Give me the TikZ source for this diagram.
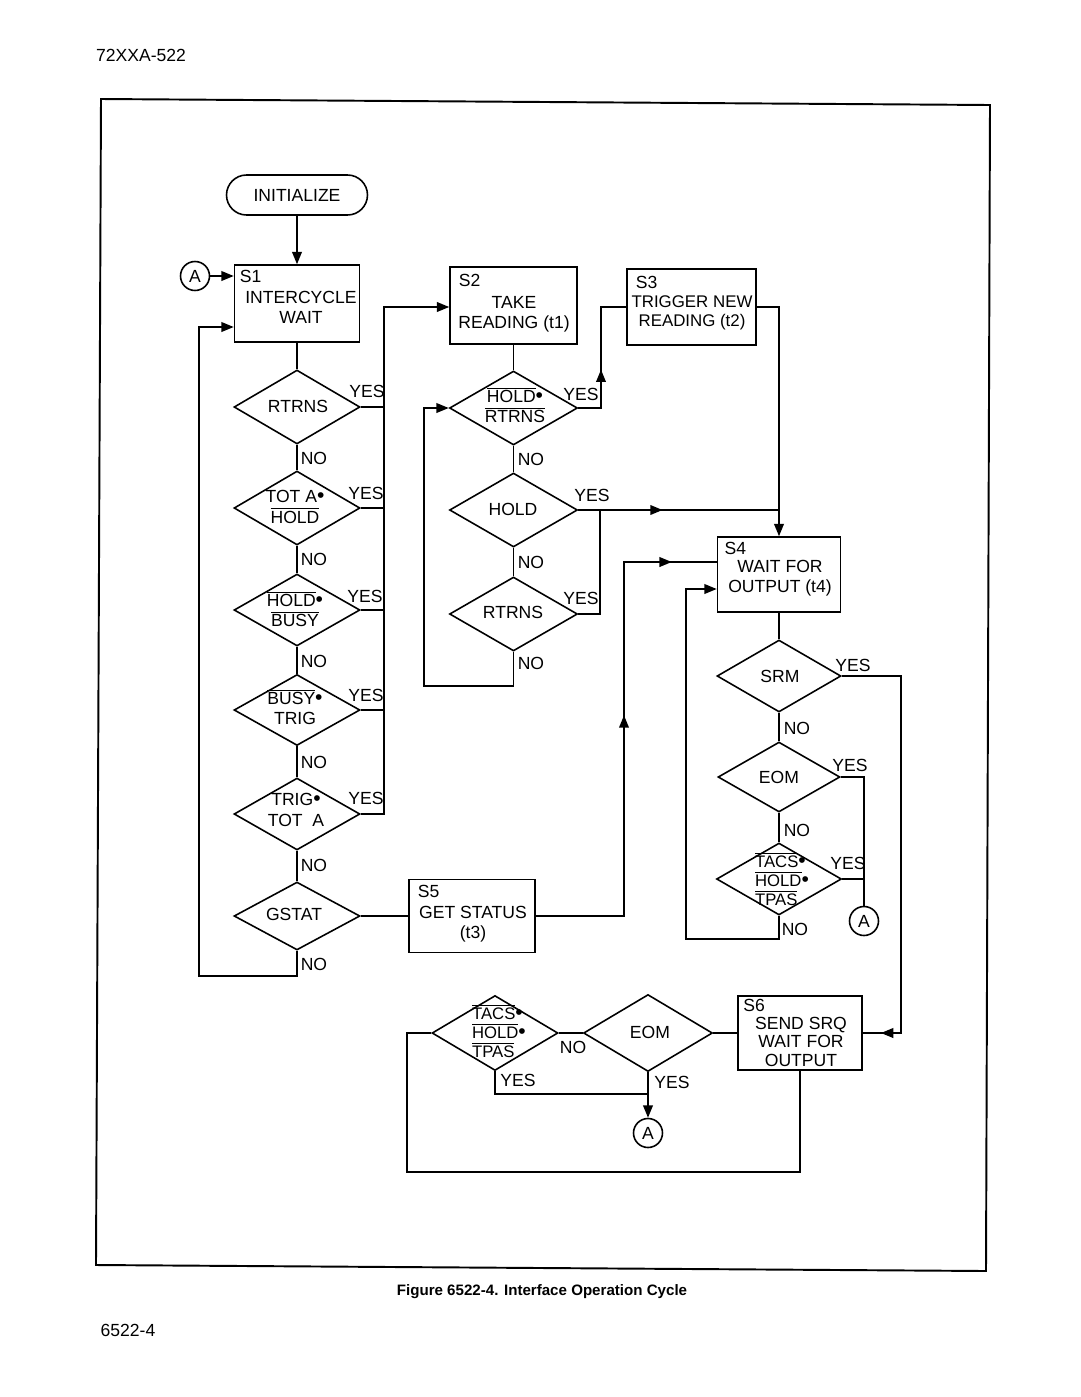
\documentclass[tikz,border=0pt]{standalone}
\usepackage{fontspec}
\setmainfont{Liberation Sans}
\usetikzlibrary{arrows.meta,shapes.geometric,decorations.markings}

\tikzset{
  arr/.style={-{Triangle[length=7pt,width=5.5pt]}},
  arrat/.style={postaction={decorate,decoration={markings,
      mark=at position #1 with {\arrow{Triangle[length=7pt,width=5.5pt]}}}}},
}
\newcommand{\notsig}[1]{$\overline{\hbox{#1}}$}
\newcommand{\andd}{{\fontsize{12}{12}\selectfont\textbullet}}

\begin{document}
\begin{tikzpicture}[x=0.02cm, y=-0.02cm, line width=0.9pt,
    font=\fontsize{10}{11.5}\selectfont]
    \useasboundingbox (0,0) rectangle (1080,1397);

    % page frame and page texts
    \draw[line width=1.1pt] (101,99) -- (990,105) -- (986,1271) -- (96,1265) -- cycle;
    \node (hdr) at (141,55) {72XXA-522};
    \node[font=\fontsize{8.6}{9}\selectfont\bfseries] (cap) at (542,1292) {Figure 6522-4. Interface Operation Cycle};
    \node (pg) at (128,1330) {6522-4};

    \begin{scope}[every node/.style={rectangle, draw, inner sep=0pt}]
      \node[rounded corners=0.4cm, minimum width=2.82cm, minimum height=0.8cm] (init) at (297,195) {INITIALIZE};
      \node[minimum width=2.5cm, minimum height=1.54cm] (s1) at (297,303.5) {};
      \node[minimum width=2.54cm, minimum height=1.54cm] (s2) at (513.5,305.5) {};
      \node[minimum width=2.58cm, minimum height=1.52cm] (s3) at (691.5,307) {};
      \node[minimum width=2.46cm, minimum height=1.5cm] (s4) at (779,574.5) {};
      \node[minimum width=2.52cm, minimum height=1.46cm] (s5) at (472,916) {};
      \node[minimum width=2.48cm, minimum height=1.48cm] (s6) at (800,1033) {};
    \end{scope}

    \begin{scope}[every node/.style={circle, draw, minimum size=0.58cm, inner sep=0pt}]
      \node (a1) at (195,276) {A};
      \node (a2) at (864,921) {A};
      \node (a3) at (648,1133) {A};
    \end{scope}

    \begin{scope}[every node/.style={diamond, draw, inner sep=0pt, minimum width=2.52cm, minimum height=1.48cm}]
      \node (d1) at (297,407) {};
      \node (d2) at (297,508) {};
      \node[minimum height=1.44cm] (d3) at (297,610) {};
      \node[minimum height=1.42cm] (d4) at (297,710) {};
      \node[minimum height=1.44cm] (d5) at (297,814) {};
      \node[minimum height=1.36cm] (d6) at (297,916) {};
      \node[minimum width=2.56cm] (d7) at (513.5,408) {};
      \node[minimum width=2.56cm] (d8) at (513.5,510) {};
      \node[minimum width=2.56cm] (d9) at (513.5,614) {};
      \node[minimum width=2.48cm, minimum height=1.44cm] (d10) at (779,676) {};
      \node[minimum width=2.44cm, minimum height=1.4cm] (d11) at (779,777) {};
      \node[minimum width=2.5cm, minimum height=1.44cm] (d12) at (779,879) {};
      \node[minimum width=2.58cm, minimum height=1.54cm] (d13) at (648,1033) {};
      \node[minimum height=1.5cm] (d14) at (495,1033) {};
    \end{scope}

    % texts in boxes and diamonds
    \begin{scope}[every node/.style={inner sep=0pt, align=center}]
      \node[anchor=north west] (s1tag) at ([xshift=3pt,yshift=-3pt]s1.north west) {S1};
      \node[anchor=north west] (s2tag) at ([xshift=5pt,yshift=-4pt]s2.north west) {S2};
      \node[anchor=north west] (s3tag) at ([xshift=5pt,yshift=-4pt]s3.north west) {S3};
      \node[anchor=north west] (s4tag) at ([xshift=4pt,yshift=-3pt]s4.north west) {S4};
      \node[anchor=north west] (s5tag) at ([xshift=5pt,yshift=-3pt]s5.north west) {S5};
      \node[anchor=north west] (s6tag) at ([xshift=3pt,yshift=-2pt]s6.north west) {S6};
      \node (s1txt) at (301,307) {INTERCYCLE\\WAIT};
      \node (s2txt) at (514,314) {TAKE\\READING (t1)};
      \node[font=\fontsize{9.6}{10.5}\selectfont] (s3txt) at (692,313) {TRIGGER NEW\\READING (t2)};
      \node (s4txt) at (780,578.5) {WAIT FOR\\OUTPUT (t4)};
      \node (s5txt) at (473,924) {GET STATUS\\(t3)};
      \node[font=\fontsize{10}{10.5}\selectfont] (s6txt) at (801,1041.5) {SEND SRQ\\WAIT FOR\\OUTPUT};

      \node (d1txt) at (298,406) {RTRNS};
      \node (d2txt) at (295,507) {TOT A\andd\\\notsig{HOLD}};
      \node (d3txt) at (295,609) {\notsig{HOLD}\andd\\\notsig{BUSY}};
      \node (d4txt) at (295,707) {\notsig{BUSY}\andd\\TRIG};
      \node (d5txt) at (296,810) {TRIG\andd\\TOT\ \ A};
      \node (d6txt) at (294,914) {GSTAT};
      \node (d7txt) at (515,405) {\notsig{HOLD}\andd\\\notsig{RTRNS}};
      \node (d8txt) at (513,509) {HOLD};
      \node (d9txt) at (513,612) {RTRNS};
      \node (d10txt) at (780,676) {SRM};
      \node (d11txt) at (779,777) {EOM};
      \node[align=left, font=\fontsize{9.5}{11}\selectfont] (d12txt) at (782,879) {\notsig{TACS}\andd\\\notsig{HOLD}\andd\\\notsig{TPAS}};
      \node (d13txt) at (650,1032) {EOM};
      \node[align=left, font=\fontsize{9.5}{11}\selectfont] (d14txt) at (499,1031) {\notsig{TACS}\andd\\\notsig{HOLD}\andd\\\notsig{TPAS}};
    \end{scope}

    % YES / NO labels
    \begin{scope}[every node/.style={inner sep=0pt}]
      \node (y1) at (367,391) {YES};
      \node (y2) at (366,493) {YES};
      \node (y3) at (365,596) {YES};
      \node (y4) at (366,695) {YES};
      \node (y5) at (366,798) {YES};
      \node[anchor=west] (n1) at (300,458) {NO};
      \node[anchor=west] (n2) at (300,559) {NO};
      \node[anchor=west] (n3) at (300,661) {NO};
      \node[anchor=west] (n4) at (300,762) {NO};
      \node[anchor=west] (n5) at (300,865) {NO};
      \node[anchor=west] (n6) at (300,964) {NO};
      \node (y7) at (581,394) {YES};
      \node (y8) at (592,495) {YES};
      \node (y9) at (581,598) {YES};
      \node[anchor=west] (n7) at (517,459) {NO};
      \node[anchor=west] (n8) at (517,562) {NO};
      \node[anchor=west] (n9) at (517,663) {NO};
      \node (y10) at (853,665) {YES};
      \node (y11) at (850,765) {YES};
      \node (y12) at (848,863) {YES};
      \node[anchor=west] (n10) at (783,728) {NO};
      \node[anchor=west] (n11) at (783,830) {NO};
      \node[anchor=west] (n12) at (781,929) {NO};
      \node (n14) at (573,1047) {NO};
      \node (y14) at (518,1080) {YES};
      \node (y13) at (672,1082) {YES};
    \end{scope}

    % left column
    \draw[arr] (init) -- (s1);
    \draw[arr] (a1) -- (a1 -| s1.west);
    \draw (s1) -- (d1) (d1) -- (d2) (d2) -- (d3) (d3) -- (d4) (d4) -- (d5) (d5) -- (d6);
    \coordinate (bus) at (384,307);
    \draw[arr] (d5.east) -| (bus) -- (bus -| s2.west);
    \foreach \d in {d1,d2,d3,d4}
      \draw (\d.east) -- (\d.east -| bus);
    \draw (d6) -- (s5);
    \coordinate (s5up) at (624,916);
    \coordinate (s4a) at (624,562);
    \draw[arrat=0.54, arrat=0.916] (s5.east) -- (s5up) -- (s4a) -- (s4a -| s4.west);
    \coordinate (d6lp) at (199,976);
    \coordinate (s1lp) at (199,327);
    \draw[arr] (d6.south) |- (d6lp) -- (s1lp) -- (s1lp -| s1.west);

    % middle column
    \draw (s2) -- (d7) (d7) -- (d8) (d8) -- (d9);
    \coordinate (d7up) at (601,307);
    \draw[arrat=0.41] (d7.east) -| (d7up) -- (s3.west);
    \draw[arrat=0.42] (d8.east) -- (d8.east -| s4.north);
    \coordinate (d9up) at (600,510);
    \draw (d9.east) -| (d9up);
    \coordinate (d9lp) at (424,686);
    \draw[arr] (d9.south) |- (d9lp) |- (d7.west);
    \draw[arr] (s3.east) -| (s4.north);

    % right column
    \draw (s4) -- (d10) (d10) -- (d11) (d11) -- (d12);
    \coordinate (d10r) at (901,1033);
    \draw[arrat=0.96] (d10.east) -| (d10r) -- (s6.east);
    \draw (d11.east) -| (a2.north);
    \draw (d12.east) -- (d12.east -| a2.north);
    \coordinate (d12lp) at (686,939);
    \coordinate (s4b) at (686,589);
    \draw[arr] (d12.south) |- (d12lp) -- (s4b) -- (s4b -| s4.west);

    % bottom row
    \draw (d13.east) -- (s6.west);
    \draw (d13.west) -- (d14.east);
    \draw[arr] (d13.south) -- (a3.north);
    \coordinate (d14y) at (648,1094);
    \draw (d14.south) |- (d14y);
    \coordinate (d14lp) at (407,1172);
    \draw (d14.west) -| (d14lp) -| (s6.south);
\end{tikzpicture}
\end{document}
